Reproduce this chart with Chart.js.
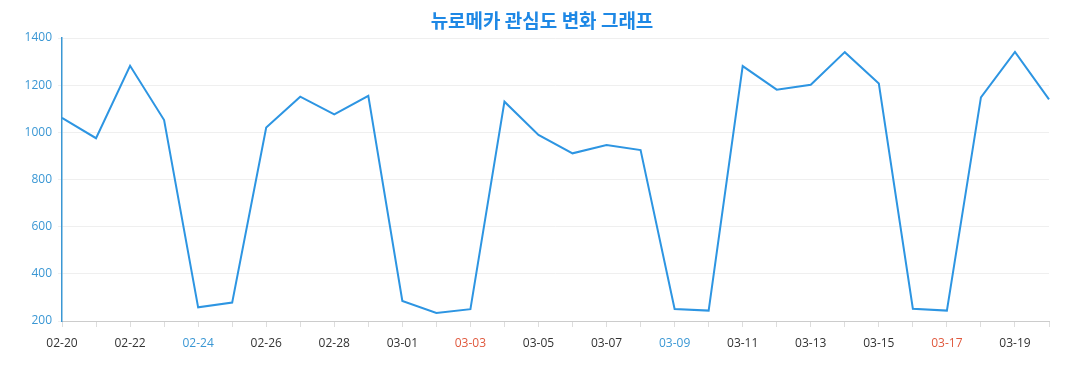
<!DOCTYPE html>
<html>
<head>
<meta charset="utf-8">
<script src="https://cdn.jsdelivr.net/npm/chart.js@4.4.1/dist/chart.umd.min.js"></script>
<style>
  html, body { margin: 0; padding: 0; background: #fff; }
  #wrap { position: relative; width: 1077px; height: 390px; }
  #title {
    position: absolute; left: 0; top: 8px; width: 1084px;
    text-align: center; line-height: 23px;
    font-family: "Noto Sans CJK KR", sans-serif; font-size: 19px; font-weight: bold;
    color: #1e88e5;
  }
  #myChart { position: absolute; left: 0; top: 0; }
</style>
</head>
<body>
<div id="wrap">
  <canvas id="myChart" width="1077" height="390"></canvas>
  <div id="title">뉴로메카 관심도 변화 그래프</div>
</div>
<script>
const dates = [
  "02-20", "02-21", "02-22", "02-23", "02-24", "02-25", "02-26", "02-27", "02-28", "02-29",
  "03-01", "03-02", "03-03", "03-04", "03-05", "03-06", "03-07", "03-08", "03-09", "03-10",
  "03-11", "03-12", "03-13", "03-14", "03-15", "03-16", "03-17", "03-18", "03-19", "03-20"
];

const interest = [
  1061, 975, 1282, 1052, 258, 278, 1020, 1151, 1076, 1155,
  285, 234, 250, 1130, 989, 911, 946, 925, 251, 244,
  1281, 1181, 1202, 1340, 1207, 252, 244, 1148, 1341, 1140
];

// weekend days get their own label colour
const saturdays = ["02-24", "03-02", "03-09", "03-16"];
const sundays = ["02-25", "03-03", "03-10", "03-17"];

const yTicks = { min: 200, max: 1400, step: 200 };

const labelColor = (label) => {
  if (saturdays.includes(label)) return "#3a97d4";
  if (sundays.includes(label)) return "#e0593e";
  return "#333333";
};

const config = {
  type: "line",
  data: {
    labels: dates,
    datasets: [
      {
        label: "관심도",
        data: interest,
        borderColor: "#2d95e2",
        borderWidth: 2,
        pointRadius: 0,
        tension: 0,
        fill: false,
      },
    ],
  },
  options: {
    responsive: false,
    animation: false,
    layout: { padding: { left: 0, right: 28, top: 38, bottom: 0 } },
    plugins: {
      legend: { display: false },
      tooltip: { enabled: false },
      title: { display: false },
    },
    scales: {
      x: {
        offset: false,
        grid: {
          drawOnChartArea: false,
          drawTicks: true,
          tickLength: 6,
          color: "#dddddd",
        },
        border: { color: "#cccccc", width: 1 },
        ticks: {
          autoSkip: false,
          maxRotation: 0,
          padding: 9,
          font: { family: "'Open Sans'", size: 12 },
          color: (ctx) => labelColor(dates[ctx.index]),
          callback: (val, index) => (index % 2 === 0 ? dates[index] : ""),
        },
        afterFit: (scale) => { scale.height = 69; },
      },
      y: {
        min: yTicks.min,
        max: yTicks.max,
        grid: {
          color: "#efefef",
          tickLength: 4,
        },
        border: { color: "#3a97d4", width: 1.5 },
        ticks: {
          stepSize: yTicks.step,
          padding: 6,
          color: "#3a97d4",
          font: { family: "'Open Sans'", size: 12 },
          callback: (v) => String(v),
        },
        afterFit: (scale) => { scale.width = 62; },
      },
    },
  },
};

const myChart = new Chart(document.getElementById("myChart"), config);
</script>
</body>
</html>
